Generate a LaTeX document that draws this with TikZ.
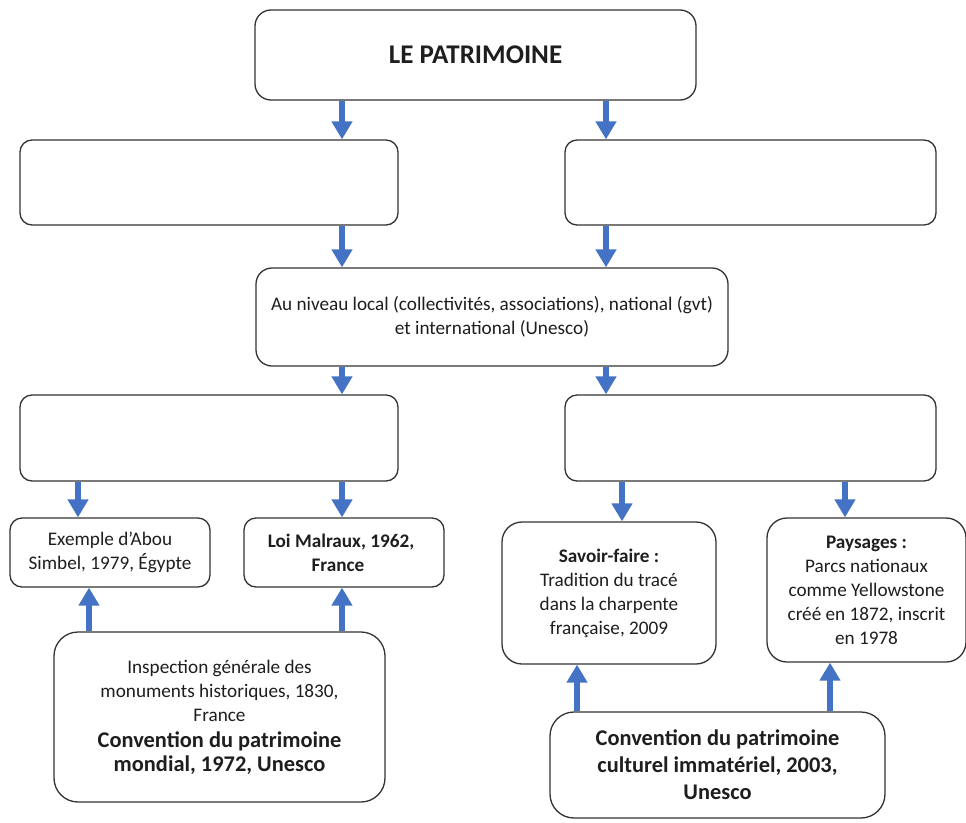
\documentclass[tikz,border=0pt]{standalone}
\usepackage{fontspec}
\setmainfont{Carlito}
\usetikzlibrary{arrows.meta}
\definecolor{arrowblue}{HTML}{4472C4}
\definecolor{boxline}{HTML}{333333}
\definecolor{txt}{HTML}{1E1E1E}
\begin{document}
\begin{tikzpicture}[x=1pt,y=-1pt,
  box/.style={draw=boxline, line width=1.3pt, rounded corners=#1, align=center, inner sep=0pt, fill=white, text=txt},
  smalltxt/.style={font=\fontsize{19.2}{24}\selectfont},
  bigtxt/.style={font=\bfseries\fontsize{22.4}{27}\selectfont},
  arr/.style={draw=arrowblue, line width=6pt, -{Triangle[width=20pt,length=18pt]}}]
\useasboundingbox[fill=white] (0,0) rectangle (966,822);
% columns for connectors
\coordinate (xa) at (342,0);
\coordinate (xb) at (606,0);
\coordinate (xc) at (78,0);
\coordinate (xd) at (89,0);
\coordinate (xe) at (622,0);
\coordinate (xf) at (845,0);
\coordinate (xg) at (577,0);
\coordinate (xh) at (830,0);
% boxes
\node[box=16pt, minimum width=441pt, minimum height=90pt, font=\bfseries\fontsize{27}{32}\selectfont] (top) at (475.5,55) {\raisebox{-5pt}{LE PATRIMOINE}};
\node[box=12pt, minimum width=378pt, minimum height=85pt] (l1) at (209,182.5) {};
\node[box=12pt, minimum width=371pt, minimum height=85pt] (r1) at (750.5,182.5) {};
\node[box=16pt, minimum width=472pt, minimum height=98pt, smalltxt] (mid) at (492,317) {Au niveau local (collectivités, associations), national (gvt)\\et international (Unesco)};
\node[box=12pt, minimum width=378pt, minimum height=86pt] (l2) at (209,438) {};
\node[box=12pt, minimum width=371pt, minimum height=86pt] (r2) at (750.5,438) {};
\node[box=12pt, minimum width=200pt, minimum height=69pt, smalltxt] (ex) at (110,552.5) {Exemple d’Abou\\Simbel, 1979, Égypte};
\node[box=12pt, minimum width=200pt, minimum height=69pt, smalltxt] (loi) at (344,552.5) {\textbf{Loi Malraux, 1962,}\hspace*{6pt}\\\textbf{France}\hspace*{12pt}};
\node[box=20pt, minimum width=214pt, minimum height=142pt, smalltxt] (sf) at (609,593) {\textbf{Savoir-faire :}\\Tradition du tracé\\dans la charpente\\française, 2009};
\node[box=20pt, minimum width=199pt, minimum height=144pt, smalltxt] (pay) at (866.5,590) {\textbf{Paysages :}\\Parcs nationaux\\comme Yellowstone\\créé en 1872, inscrit\\en 1978};
\node[box=24pt, minimum width=331pt, minimum height=170pt, smalltxt] (cv1) at (219.5,717) {Inspection générale des\\monuments historiques, 1830,\\France\\[2pt]\bfseries\fontsize{22.4}{27}\selectfont Convention du patrimoine\\\bfseries\fontsize{22.4}{27}\selectfont mondial, 1972, Unesco};
\node[box=24pt, minimum width=335pt, minimum height=106pt, bigtxt] (cv2) at (717.5,765) {Convention du patrimoine\\culturel immatériel, 2003,\\Unesco};
% connectors
\draw[arr] (top.south -| xa) -- (l1.north -| xa);
\draw[arr] (top.south -| xb) -- (r1.north -| xb);
\draw[arr] (l1.south -| xa) -- (mid.north -| xa);
\draw[arr] (r1.south -| xb) -- (mid.north -| xb);
\draw[arr] (mid.south -| xa) -- (l2.north -| xa);
\draw[arr] (mid.south -| xb) -- (r2.north -| xb);
\draw[arr] (l2.south -| xc) -- (ex.north -| xc);
\draw[arr] (l2.south -| xa) -- (loi.north -| xa);
\draw[arr] (r2.south -| xe) -- (sf.north -| xe);
\draw[arr] (r2.south -| xf) -- (pay.north -| xf);
\draw[arr] (cv1.north -| xd) -- (ex.south -| xd);
\draw[arr] (cv1.north -| xa) -- (loi.south -| xa);
\draw[arr] (cv2.north -| xg) -- (sf.south -| xg);
\draw[arr] (cv2.north -| xh) -- (pay.south -| xh);
\end{tikzpicture}
\end{document}
